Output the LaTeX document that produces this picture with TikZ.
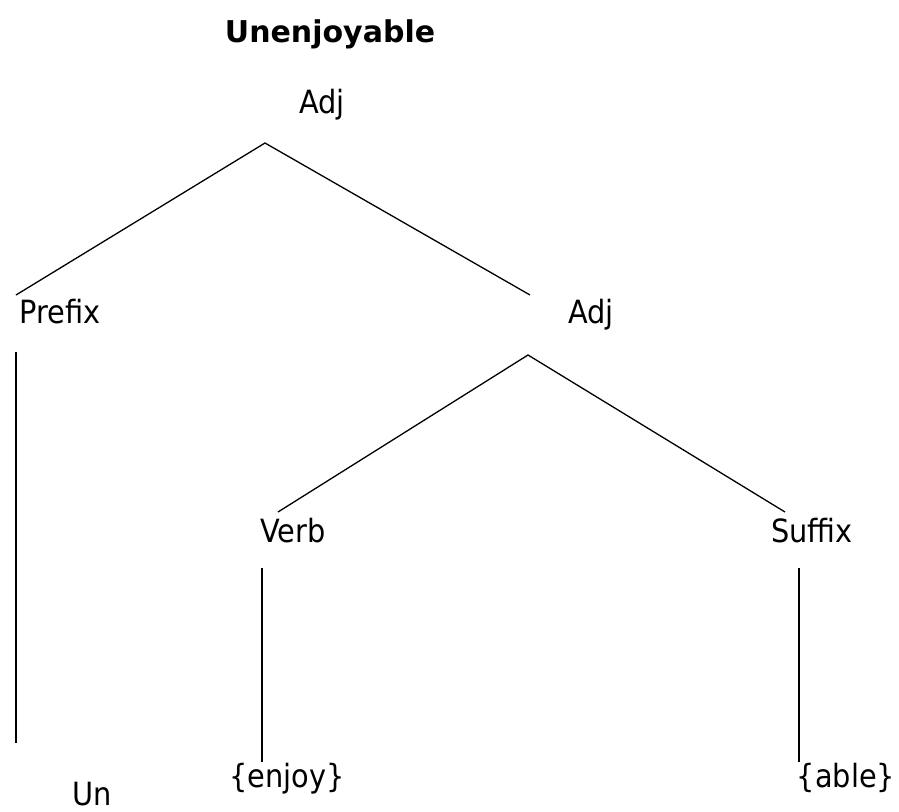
\documentclass[tikz,border=0pt]{standalone}
\usepackage{fontspec}
\setmainfont{DejaVu Sans Condensed}
\newfontfamily\titlefont{DejaVu Sans}
\begin{document}
\begin{tikzpicture}[x=1pt,y=-1pt,
  lbl/.style={inner sep=0pt,anchor=base,font=\fontsize{32}{38}\selectfont},
  ttl/.style={inner sep=0pt,anchor=base,font=\titlefont\fontsize{30}{36}\selectfont\bfseries},
  branch/.style={line width=1.3pt,black}]
\useasboundingbox (0,0) rectangle (899,811);
% labels (placed by baseline)
\node[ttl] (title) at (330,42) {Unenjoyable};
\node[lbl] (adjtop) at (322,113) {Adj};
\node[lbl] (prefix) at (60,323) {Prefix};
\node[lbl] (adjmid) at (591,323) {Adj};
\node[lbl] (verb) at (293,542) {Verb};
\node[lbl] (suffix) at (812,542) {Suffix};
\node[lbl] (enjoy) at (287,787) {\{enjoy\}};
\node[lbl] (able) at (846,787) {\{able\}};
\node[lbl] (un) at (92,805) {Un};
% branch ends
\coordinate (a1) at (265,143);
\coordinate (p1) at (16,295);
\coordinate (m1) at (530,295);
\coordinate (a2) at (528,355);
\coordinate (v1) at (278,512);
\coordinate (s1) at (785,512);
\coordinate (pt) at (16,352);
\coordinate (pb) at (16,743);
\coordinate (vt) at (262,568);
\coordinate (vb) at (262,762);
\coordinate (st) at (799,568);
\coordinate (sb) at (799,762);
% branches
\draw[branch] (p1) -- (a1) -- (m1);
\draw[branch] (v1) -- (a2) -- (s1);
\draw[branch] (pt) -- (pb);
\draw[branch] (vt) -- (vb);
\draw[branch] (st) -- (sb);
\end{tikzpicture}
\end{document}
